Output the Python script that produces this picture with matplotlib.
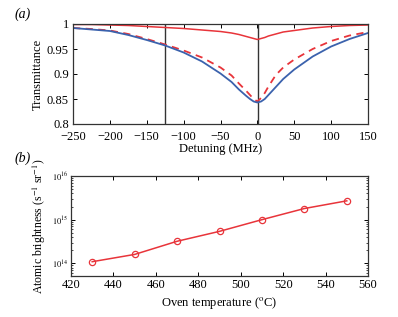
import numpy as np
import matplotlib
matplotlib.use("Agg")
import matplotlib.pyplot as plt
from matplotlib.ticker import LogLocator, NullFormatter

plt.rcParams['font.family'] = ['Liberation Serif', 'DejaVu Serif']
plt.rcParams['mathtext.fontset'] = 'stix'

# (a) transmittance vs detuning
detuning = [-250, -225, -200, -175, -150, -125, -100, -75, -50, -35, -25, -15, -10, -5, 0,
            5, 10, 15, 25, 35, 50, 75, 100, 125, 150]
blue_fit = [0.992, 0.989, 0.986, 0.978, 0.968, 0.957, 0.943, 0.925, 0.901, 0.884, 0.869, 0.856,
            0.850, 0.845, 0.843, 0.845, 0.850, 0.858, 0.874, 0.890, 0.909, 0.935, 0.955, 0.970, 0.982]
red_dash = [0.992, 0.990, 0.987, 0.980, 0.970, 0.959, 0.947, 0.933, 0.913, 0.897, 0.881, 0.866,
            0.858, 0.850, 0.845, 0.852, 0.862, 0.875, 0.898, 0.913, 0.929, 0.950, 0.966, 0.977, 0.984]
red_solid = [0.999, 0.999, 0.998, 0.997, 0.995, 0.993, 0.991, 0.988, 0.985, 0.982, 0.979, 0.975,
             0.973, 0.971, 0.969, 0.971, 0.973, 0.976, 0.980, 0.984, 0.987, 0.992, 0.995, 0.997, 0.998]
vlines = [-125, 1]

# (b) brightness vs oven temperature
temps = [430, 450, 470, 490, 510, 530, 550]
brightness = [1.09e14, 1.6e14, 3.2e14, 5.4e14, 1.0e15, 1.8e15, 2.7e15]

RED = '#e8343a'
BLUE = '#3b62ad'

fig = plt.figure(figsize=(3.98, 3.17), dpi=100)
ax1 = fig.add_axes([73/398, 1 - 124/317, 295/398, 100/317])
ax2 = fig.add_axes([71/398, 1 - 276/317, 297/398, 100/317])

for x in vlines:
    ax1.axvline(x, color='#333333', lw=1.0)
ax1.plot(detuning, red_solid, color=RED, lw=1.1)
ax1.plot(detuning, red_dash, color=RED, lw=1.3, ls=(0, (4, 3)))
ax1.plot(detuning, blue_fit, color=BLUE, lw=1.3)
ax1.set_xlim(-250, 150)
ax1.set_ylim(0.8, 1.0)
ax1.set_xticks(range(-250, 151, 50))
ax1.set_xticklabels(['\u2212%d' % -v if v < 0 else str(v) for v in range(-250, 151, 50)])
ax1.set_yticks([0.8, 0.85, 0.9, 0.95, 1.0])
ax1.set_yticklabels(['0.8', '0.85', '0.9', '0.95', '1'])
ax1.set_xlabel('Detuning (MHz)', fontsize=9, labelpad=0)
ax1.set_ylabel('Transmittance', fontsize=9, labelpad=2)

ax2.plot(temps, brightness, color=RED, lw=1.1, marker='o', ms=4.5, mfc='none', mec=RED, mew=0.9)
ax2.set_yscale('log')
ax2.set_xlim(420, 560)
ax2.set_ylim(10**13.71, 1e16)
ax2.set_xticks(range(420, 561, 20))
ax2.set_yticks([1e14, 1e15, 1e16])
ax2.set_yticklabels(['$10^{14}$', '$10^{15}$', '$10^{16}$'], fontsize=6)
ax2.yaxis.set_minor_locator(LogLocator(base=10, subs=np.arange(2, 10), numticks=10))
ax2.yaxis.set_minor_formatter(NullFormatter())
ax2.set_xlabel('Oven temperature ($^{\\rm o}$C)', fontsize=9, labelpad=3)
ax2.set_ylabel('Atomic brightness (s$^{-1}$ sr$^{-1}$)', fontsize=8.5, labelpad=3)

for ax in (ax1, ax2):
    ax.tick_params(direction='in', top=True, right=True, length=3, width=0.7, labelsize=9, pad=2)
    ax.tick_params(which='minor', direction='in', right=True, left=True, length=1.5, width=0.5)
    for s in ax.spines.values():
        s.set_linewidth(0.9)
        s.set_color('#333333')
ax1.tick_params(axis='x', pad=5)
ax1.tick_params(axis='y', pad=3)
ax2.tick_params(axis='y', which='major', labelsize=6)

fig.text(15/398, 1 - 14/317, '(a)', fontsize=10, style='italic', va='center')
fig.text(15/398, 1 - 158/317, '(b)', fontsize=10, style='italic', va='center')

fig.savefig('out.png', dpi=100)
